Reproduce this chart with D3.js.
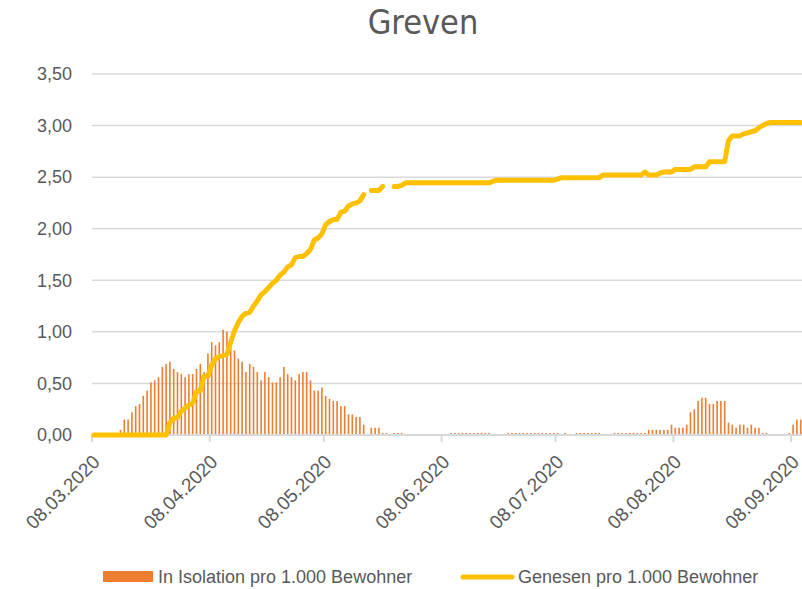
<!DOCTYPE html>
<html>
<head>
<meta charset="utf-8">
<script src="https://cdn.jsdelivr.net/npm/d3@7"></script>
<style>
  body { margin: 0; background: #fff; }
  svg { display: block; font-family: "Liberation Sans", Arial, sans-serif; }
</style>
</head>
<body>
<div id="chart"></div>
<script>
// daily values starting 08.03.2020
const startDate = new Date(Date.UTC(2020, 2, 8));
const dayCount = 187;

const isolation = [
  0, 0, 0, 0, 0, 0, 0, 0.05, 0.15, 0.15,
  0.22, 0.28, 0.30, 0.38, 0.43, 0.51, 0.53, 0.56, 0.66, 0.69,
  0.71, 0.64, 0.61, 0.59, 0.56, 0.59, 0.59, 0.64, 0.69, 0.61,
  0.79, 0.90, 0.87, 0.90, 1.02, 1.00, 0.95, 0.82, 0.74, 0.71,
  0.61, 0.69, 0.66, 0.61, 0.53, 0.61, 0.56, 0.51, 0.51, 0.56,
  0.66, 0.59, 0.56, 0.53, 0.59, 0.61, 0.61, 0.53, 0.43, 0.43,
  0.46, 0.38, 0.35, 0.33, 0.33, 0.28, 0.28, 0.20, 0.20, 0.175,
  0.175, 0.10, 0, 0.07, 0.07, 0.07, 0.02, 0.02, 0, 0.02,
  0.02, 0.02, 0, 0, 0, 0, 0, 0, 0, 0,
  0, 0, 0, 0, 0.02, 0.02, 0.02, 0.02, 0.02, 0.02,
  0.02, 0.02, 0.02, 0.02, 0.02, 0, 0, 0, 0, 0.02,
  0.02, 0.02, 0.02, 0.02, 0.02, 0.02, 0.02, 0.02, 0.02, 0.02,
  0.02, 0.02, 0.02, 0, 0.02, 0, 0, 0.02, 0.02, 0.02,
  0.02, 0.02, 0.02, 0.02, 0, 0, 0, 0.02, 0.02, 0.02,
  0.02, 0.02, 0.02, 0.02, 0.02, 0.02, 0.05, 0.05, 0.05, 0.05,
  0.05, 0.05, 0.10, 0.07, 0.07, 0.07, 0.10, 0.22, 0.25, 0.33,
  0.36, 0.36, 0.30, 0.30, 0.33, 0.33, 0.33, 0.12, 0.10, 0.07,
  0.10, 0.10, 0.07, 0.10, 0.07, 0.07, 0.02, 0.02, 0, 0,
  0, 0, 0, 0.02, 0.10, 0.15, 0.15
];

const genesen = [
  0, 0, 0, 0, 0, 0, 0, 0, 0, 0,
  0, 0, 0, 0, 0, 0, 0, 0, 0, 0,
  0.12, 0.16, 0.17, 0.23, 0.26, 0.29, 0.31, 0.42, 0.43, 0.57,
  0.57, 0.68, 0.74, 0.76, 0.77, 0.78, 0.90, 1.01, 1.09, 1.15,
  1.18, 1.19, 1.25, 1.30, 1.36, 1.39, 1.43, 1.47, 1.50, 1.55,
  1.58, 1.63, 1.65, 1.72, 1.73, 1.73, 1.76, 1.80, 1.89, 1.91,
  1.95, 2.04, 2.07, 2.09, 2.09, 2.16, 2.17, 2.22, 2.24, 2.25,
  2.27, 2.33, null, 2.37, 2.37, 2.37, 2.41, null, null, 2.41,
  2.41, 2.42, 2.445, 2.445, 2.445, 2.445, 2.445, 2.445, 2.445, 2.445,
  2.445, 2.445, 2.445, 2.445, 2.445, 2.445, 2.445, 2.445, 2.445, 2.445,
  2.445, 2.445, 2.445, 2.445, 2.445, 2.46, 2.47, 2.47, 2.47, 2.47,
  2.47, 2.47, 2.47, 2.47, 2.47, 2.47, 2.47, 2.47, 2.47, 2.47,
  2.47, 2.47, 2.48, 2.495, 2.495, 2.495, 2.495, 2.495, 2.495, 2.495,
  2.495, 2.495, 2.495, 2.495, 2.52, 2.52, 2.52, 2.52, 2.52, 2.52,
  2.52, 2.52, 2.52, 2.52, 2.52, 2.55, 2.52, 2.52, 2.52, 2.54,
  2.55, 2.55, 2.55, 2.575, 2.575, 2.575, 2.575, 2.575, 2.60, 2.60,
  2.60, 2.60, 2.65, 2.65, 2.65, 2.65, 2.65, 2.855, 2.90, 2.90,
  2.90, 2.92, 2.93, 2.94, 2.95, 2.98, 3.00, 3.02, 3.03, 3.03,
  3.03, 3.03, 3.03, 3.03, 3.03, 3.03, 3.03
];

const tickDates = ["2020-03-08", "2020-04-08", "2020-05-08", "2020-06-08", "2020-07-08", "2020-08-08", "2020-09-08"];
const tickLabels = ["08.03.2020", "08.04.2020", "08.05.2020", "08.06.2020", "08.07.2020", "08.08.2020", "08.09.2020"];
const yTicks = [0, 0.5, 1, 1.5, 2, 2.5, 3, 3.5];
const seriesNames = ["In Isolation pro 1.000 Bewohner", "Genesen pro 1.000 Bewohner"];

const W = 802, H = 589;
const orange = "#ED7D31", gold = "#FFC000", grid = "#D9D9D9", textCol = "#595959";

const days = d3.range(dayCount).map(i => d3.utcDay.offset(startDate, i));
const rows = days.map((d, i) => ({ date: d, iso: isolation[i], gen: genesen[i] }));

const x = d3.scaleUtc()
  .domain([startDate, d3.utcDay.offset(startDate, dayCount)])
  .range([92, 92 + dayCount * 3.8]);
const y = d3.scaleLinear().domain([0, 3.5]).range([435, 74]);

const mid = d => x(new Date(d.getTime() + 12 * 3600 * 1000));

const svg = d3.select("#chart").append("svg")
  .attr("width", W).attr("height", H);

// title
svg.append("text")
  .attr("x", 423).attr("y", 34)
  .attr("text-anchor", "middle")
  .style("font-family", "'Liberation Sans Narrow', 'DejaVu Sans Condensed', sans-serif")
  .style("font-size", "34px")
  .attr("fill", textCol)
  .text("Greven");

// gridlines
svg.append("g").selectAll("line")
  .data(yTicks.slice(1))
  .join("line")
  .attr("x1", 92).attr("x2", W)
  .attr("y1", d => y(d)).attr("y2", d => y(d))
  .attr("stroke", grid).attr("stroke-width", 1.5);

// y labels
svg.append("g").selectAll("text")
  .data(yTicks)
  .join("text")
  .attr("x", 72).attr("y", d => y(d))
  .attr("dy", "0.35em")
  .attr("text-anchor", "end")
  .attr("fill", textCol)
  .style("font-size", "18px")
  .text(d => d3.format(".2f")(d).replace(".", ","));

// bars
svg.append("g").selectAll("rect")
  .data(rows.filter(d => d.iso > 0))
  .join("rect")
  .attr("x", d => mid(d.date) - 0.8)
  .attr("width", 1.6)
  .attr("y", d => y(d.iso))
  .attr("height", d => y(0) - y(d.iso))
  .attr("fill", orange);

// x axis
const tickX = tickDates.map(s => x(new Date(s + "T00:00:00Z")));
const xAxis = svg.append("g");
xAxis.append("line")
  .attr("x1", 92).attr("x2", W)
  .attr("y1", 435).attr("y2", 435)
  .attr("stroke", grid).attr("stroke-width", 2);
xAxis.selectAll("line.tick")
  .data(tickX)
  .join("line")
  .attr("class", "tick")
  .attr("x1", d => d).attr("x2", d => d)
  .attr("y1", 435).attr("y2", 442)
  .attr("stroke", grid).attr("stroke-width", 2);
xAxis.selectAll("text")
  .data(tickLabels)
  .join("text")
  .attr("transform", (d, i) => `translate(${tickX[i] + 9},${463}) rotate(-45)`)
  .attr("text-anchor", "end")
  .attr("fill", textCol)
  .style("font-size", "19px")
  .text(d => d);

// line
const line = d3.line()
  .defined(d => d.gen != null)
  .x(d => mid(d.date))
  .y(d => y(d.gen));

svg.append("path")
  .datum(rows)
  .attr("d", line)
  .attr("fill", "none")
  .attr("stroke", gold)
  .attr("stroke-width", 5)
  .attr("stroke-linejoin", "round")
  .attr("stroke-linecap", "round");

// legend
const legend = svg.append("g").style("font-size", "18px").attr("fill", textCol);
legend.append("rect")
  .attr("x", 103).attr("y", 571).attr("width", 50).attr("height", 11)
  .attr("fill", orange);
legend.append("text").attr("x", 158).attr("y", 583).text(seriesNames[0]);
legend.append("line")
  .attr("x1", 463).attr("x2", 512).attr("y1", 577).attr("y2", 577)
  .attr("stroke", gold).attr("stroke-width", 5).attr("stroke-linecap", "round");
legend.append("text").attr("x", 518).attr("y", 583).text(seriesNames[1]);
</script>
</body>
</html>
